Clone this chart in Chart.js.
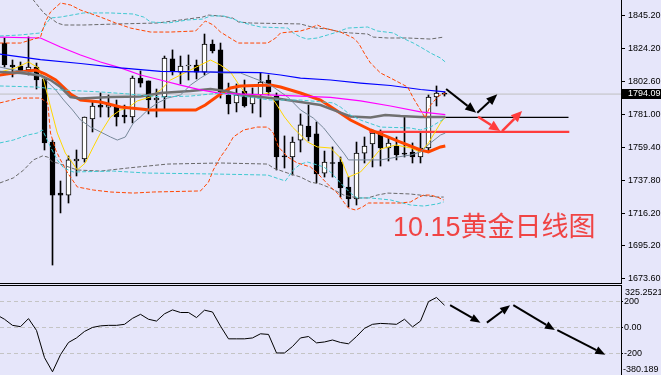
<!DOCTYPE html>
<html>
<head>
<meta charset="utf-8">
<script src="https://cdn.jsdelivr.net/npm/chart.js@4.4.0/dist/chart.umd.min.js"></script>
<style>
html, body { margin: 0; padding: 0; background: #e6e6fa; }
body { width: 661px; height: 375px; overflow: hidden; position: relative; }
#main { position: absolute; left: 0; top: 0; }
#cci { position: absolute; left: 0; top: 284px; }
#title { position: absolute; left: 393px; top: 214px; font-size: 27px; line-height: 27px;
  font-family: "Liberation Sans", "Noto Sans CJK SC", sans-serif; color: #f04444; white-space: nowrap; }
</style>
</head>
<body>
<canvas id="main" width="661" height="284" style="width:661px;height:284px"></canvas>
<canvas id="cci" width="661" height="93" style="width:661px;height:93px"></canvas>
<div id="title">10.15黄金日线图</div>
<script>
// tick labels
const priceTicks = [1845.2, 1824.2, 1802.6, 1781.0, 1759.4, 1737.8, 1716.2, 1695.2, 1673.6];
const cciTicks = [200, 0, -200];
const cciEdges = [325.2521, -380.189];

// daily candles
const opens = [1827.5,1813.1,1812.5,1809.9,1811.8,1804.0,1762.7,1729.3,1728.0,1750.3,
  1751.6,1777.8,1786.9,1785.6,1786.3,1780.4,1779.1,1804.6,1802.7,1790.2,
  1792.2,1817.1,1808.5,1812.5,1813.1,1808.5,1826.9,1823.0,1793.5,1788.3,
  1796.1,1787.6,1793.5,1803.3,1792.8,1753.6,1752.9,1764.0,1773.2,1768.0,
  1742.4,1749.3,1749.6,1733.3,1725.4,1755.5,1761.4,1768.6,1758.8,1760.1,
  1755.5,1756.2,1752.9,1758.8,1792.2,1794.8];
const highs = [1830.8,1816.4,1815.1,1831.5,1814.4,1804.6,1764.0,1737.2,1753.6,1757.5,
  1779.1,1788.9,1794.8,1793.5,1790.2,1786.9,1805.9,1809.2,1802.7,1797.4,
  1819.0,1823.0,1819.0,1819.7,1816.4,1833.4,1829.5,1827.5,1801.3,1800.7,
  1803.3,1798.1,1807.9,1806.6,1794.8,1766.7,1766.0,1781.1,1786.9,1775.8,
  1756.8,1759.5,1752.9,1739.8,1762.7,1766.0,1770.6,1770.6,1766.0,1766.0,
  1779.1,1762.1,1768.6,1793.5,1799.4,1795.5];
const lows = [1811.8,1805.3,1807.9,1806.6,1797.4,1757.5,1682.2,1716.3,1722.8,1740.5,
  1749.6,1769.3,1779.1,1779.1,1773.2,1775.2,1775.2,1798.7,1781.1,1779.1,
  1783.7,1806.6,1800.7,1803.3,1804.0,1806.6,1821.0,1791.5,1781.1,1782.4,
  1785.6,1781.7,1779.1,1793.5,1744.4,1745.7,1741.1,1756.2,1763.4,1735.9,
  1739.8,1739.8,1726.7,1720.2,1721.5,1749.0,1746.4,1747.0,1750.3,1751.0,
  1752.9,1749.0,1749.0,1756.2,1786.3,1792.8];
const closes = [1813.1,1811.8,1808.5,1811.8,1803.3,1762.1,1728.0,1728.0,1751.0,1751.6,
  1779.1,1786.3,1785.6,1786.9,1779.1,1779.1,1804.6,1801.3,1790.2,1791.5,
  1817.7,1809.2,1812.5,1813.1,1808.5,1826.9,1822.3,1795.5,1787.6,1793.5,
  1786.3,1792.8,1802.0,1795.5,1752.9,1752.9,1762.7,1773.9,1766.0,1741.8,
  1749.6,1748.7,1732.6,1725.4,1755.5,1760.1,1768.6,1758.8,1762.1,1754.2,
  1754.8,1752.9,1758.8,1792.2,1794.8,1794.09];

// indicator lines, [bar index, price]
const maBlue = [[-0.6,1820.3],[4.5,1816.7],[9.5,1814.1],[14.5,1811.2],[19.5,1808.9],[27,1808.5],[32,1808.2],
  [34.5,1806.6],[37,1804.6],[40.75,1803.3],[44.5,1801.3],[48.25,1799.7],[52,1797.1],[55.1,1795.5]];
const maMagenta = [[-0.6,1831.4],[4.5,1830.8],[7,1824.9],[9.5,1819.7],[12,1815.1],[14.5,1811.2],[17,1806.6],
  [19.5,1803.3],[22,1800.0],[24.5,1796.8],[27,1794.5],[32,1793.8],[37,1792.8],[40.75,1791.9],[44.5,1789.6],
  [48.25,1786.3],[52,1782.4],[55.1,1780.7]];
const maGray = [[-0.6,1808.5],[2,1807.9],[4.5,1806.2],[5.75,1803.3],[7,1798.7],[8.25,1792.2],[9.5,1791.2],
  [13.25,1792.2],[17,1792.5],[19.5,1794.8],[23.25,1796.1],[25.75,1797.4],[27.6,1796.1],[29.5,1793.5],
  [32,1792.2],[34.5,1790.9],[37,1788.9],[39.5,1786.9],[42,1782.0],[43.25,1779.4],[45.75,1778.8],
  [47.6,1780.4],[49.5,1779.7],[52,1779.1],[55.1,1779.1]];
const maOrange = [[-0.6,1806.6],[2,1808.5],[3.9,1809.9],[5.1,1807.2],[6.4,1803.3],[8.25,1794.2],[9.5,1790.2],
  [12,1788.9],[14.5,1785.6],[18.25,1783.7],[23.9,1783.7],[25.1,1786.9],[27,1794.2],[28.25,1798.1],
  [29.5,1799.4],[33.25,1800.0],[34.5,1798.7],[37,1794.8],[39.5,1790.2],[41.4,1783.7],[43.25,1777.1],
  [45.75,1770.6],[47.6,1766.7],[49.5,1762.7],[52,1757.5],[53,1756.2],[54.5,1759.5],[55.1,1760.1]];
const maYellow = [[-0.6,1808.5],[1.4,1811.2],[3,1815.1],[4.25,1811.2],[4.9,1803.3],[5.75,1785.6],[6.6,1768.6],
  [7.6,1755.5],[8.5,1749.0],[9.1,1744.4],[10.1,1749.0],[11.1,1759.5],[12,1768.6],[13.25,1779.1],
  [14.5,1783.7],[15.4,1785.0],[16.6,1789.6],[18.25,1792.2],[19.5,1796.8],[20.75,1803.3],[23.25,1809.9],
  [25.75,1816.4],[27,1813.1],[28.25,1808.5],[29.5,1798.7],[30.4,1792.8],[32,1793.5],[33,1794.8],
  [33.9,1788.2],[35,1779.1],[36,1772.5],[37,1767.3],[37.9,1762.7],[39.1,1759.5],[40.75,1758.8],
  [42,1752.3],[43,1739.8],[44.5,1743.1],[45.75,1750.3],[47,1758.1],[48.9,1760.8],[50.75,1758.8],
  [52,1756.2],[53,1762.1],[54.5,1775.2],[55.1,1779.1]];
const maSlate = [[-0.6,1811.8],[1.1,1809.9],[3.6,1807.9],[4.9,1804.6],[6.4,1796.8],[7.4,1790.2],[8.5,1783.7],
  [9.5,1777.1],[10.75,1772.5],[12,1769.3],[13.25,1766.0],[14.1,1764.0],[15.1,1766.0],[16.1,1775.2],
  [17,1779.1],[17.9,1783.7],[19.1,1788.2],[20.4,1791.5],[22,1793.5],[23.25,1800.0],[24.5,1804.6],
  [25.75,1808.5],[27.4,1807.9],[29.5,1807.9],[31.1,1804.6],[32.4,1802.0],[33.6,1798.7],[35.4,1792.2],
  [37,1783.7],[38.6,1778.4],[39.9,1771.9],[41.1,1764.0],[42.4,1755.5],[43,1751.0],[47,1751.0],
  [49.1,1752.9],[50.75,1754.2],[52,1756.2],[53.25,1762.1],[54.5,1767.3],[55.1,1768.6]];

// bands, dashed
const orangeUp = [[-0.6,1827.5],[2,1827.5],[4.5,1831.4],[5.1,1841.3],[5.75,1847.8],[7,1853.7],[8.25,1852.4],
  [9.5,1849.1],[12,1844.5],[13.9,1840.6],[15.75,1837.3],[18.25,1834.7],[20.75,1834.7],[23.9,1835.4],
  [25.1,1841.9],[26.1,1839.3],[27,1834.7],[28.6,1829.5],[29.25,1827.5],[32.9,1827.5],[33.9,1830.8],
  [34.5,1834.1],[37,1835.4],[38.25,1837.3],[39.1,1839.3],[39.9,1837.3],[42,1834.7],[43.6,1830.8],
  [44.25,1827.5],[45.1,1819.7],[45.75,1814.4],[47,1807.9],[48.25,1804.6],[50.4,1798.7],[51.1,1791.5],
  [52,1783.7],[52.6,1778.4],[53.25,1786.9],[54.25,1792.8],[55.1,1794.8]];
const orangeLow = [[-0.6,1788.3],[2,1791.5],[4.5,1791.5],[5.4,1788.3],[5.75,1768.6],[6.4,1757.5],[7,1751.0],
  [7.9,1742.4],[9.1,1733.3],[11.1,1731.3],[13.25,1730.0],[16.1,1729.3],[18.6,1730.0],[24.5,1730.7],
  [25.5,1736.5],[26.1,1744.4],[27,1752.9],[27.9,1759.5],[28.6,1766.0],[29.9,1770.6],[31.6,1772.5],
  [32.9,1772.5],[33.6,1768.6],[34.25,1759.5],[35.4,1752.9],[36.6,1749.0],[38.25,1746.4],[39.1,1742.4],
  [39.9,1737.9],[40.75,1733.3],[41.6,1729.3],[42.4,1723.5],[43,1719.5],[43.9,1718.2],[44.75,1720.2],
  [45.5,1722.8],[49.5,1722.8],[50.75,1723.5],[51.6,1726.1],[52.4,1728.0],[53.25,1728.0],[54.1,1726.7],
  [54.9,1724.8]];
const cyanUp = [[-0.6,1832.1],[2,1832.8],[4.5,1834.1],[5.1,1839.3],[5.75,1843.9],[7,1844.5],[9.9,1847.2],
  [13.25,1847.2],[16.1,1846.5],[17.4,1844.5],[18.25,1841.3],[20.4,1840.6],[22.9,1842.6],[24.75,1843.2],
  [25.75,1845.2],[27.4,1845.2],[28.6,1843.2],[29.9,1840.6],[32,1838.0],[35.4,1837.3],[36.1,1834.1],
  [37,1831.4],[37.9,1830.1],[39.1,1830.8],[40.4,1832.8],[41.6,1834.7],[42.9,1837.3],[45.4,1838.0],
  [46.6,1835.4],[48.6,1834.1],[49.5,1831.4],[51.1,1827.5],[52,1824.9],[53.25,1821.0],[54.5,1817.7],
  [55.1,1815.1]];
const cyanMid = [[-0.6,1799.4],[4.1,1798.7],[7,1796.8],[12,1795.5],[15.4,1794.2],[19.5,1792.2],[23.25,1792.8],
  [27,1794.8],[30.4,1792.2],[33.25,1790.2],[37,1790.2],[41.1,1788.3],[42,1785.6],[43.25,1780.4],
  [44.5,1777.1],[47,1772.5],[50.75,1771.9],[52,1770.6],[53.25,1772.5],[55.1,1778.4]];
const cyanLow = [[-0.6,1762.1],[1.1,1764.0],[2.9,1767.3],[4.1,1768.6],[4.75,1770.6],[5.75,1759.5],[6.6,1751.0],
  [7.4,1745.7],[8.6,1743.1],[13.6,1743.7],[17.9,1742.4],[26.1,1741.8],[32.9,1741.1],[35.1,1737.2],
  [36.1,1744.4],[37,1748.3],[37.9,1749.6],[39.9,1746.4],[40.75,1743.1],[42,1735.9],[43.25,1729.3],
  [44.1,1726.1],[45.75,1726.1],[48.25,1724.8],[50.75,1721.5],[52.4,1720.8],[54.1,1722.2],[54.9,1723.5]];
const grayUp = [[2.5,1862.0],[3.6,1855.7],[4.9,1847.2],[5.75,1843.9],[6.6,1840.6],[7.4,1839.3],[9.9,1839.3],
  [14.1,1840.0],[19.1,1840.6],[22,1842.6],[24.75,1844.5],[25.5,1845.8],[27,1845.2],[28.5,1843.9],
  [29.25,1841.3],[30.75,1840.6],[37,1840.0],[37.9,1838.7],[38.9,1837.3],[40.4,1836.7],[42,1834.7],
  [43.25,1834.1],[45.4,1833.4],[46.1,1831.4],[47.9,1830.8],[50.4,1830.8],[53.25,1830.1],[54.9,1831.4]];
const grayLow = [[-0.6,1735.9],[1.1,1739.2],[2.4,1744.4],[3.6,1751.0],[4.75,1753.6],[5.4,1752.9],[6,1749.6],
  [6.6,1749.0],[9.1,1744.4],[12,1743.7],[15.4,1745.7],[20.4,1748.3],[27,1749.0],[32.9,1748.3],
  [33.6,1745.7],[35.4,1742.4],[37,1739.8],[38.25,1736.5],[39.5,1735.2],[40.75,1732.6],[42.4,1728.0],
  [44.1,1726.1],[45.4,1726.1],[46.6,1728.0],[47.9,1729.3],[50.75,1728.7],[54.1,1726.7],[54.9,1726.7]];

// drawn levels and arrows, [bar index, price]
const blackLevel = [[54.8,1778.9],[70.5,1778.9]];
const redLevel = [[45.6,1769.3],[70.6,1769.3]];
const blackArrows = [[55.2,1797.4,58.96,1781.9],[59.1,1781.9,61.6,1793.95]];
const redArrows = [[59.2,1779.3,61.96,1769.9],[62.2,1769.9,64.7,1783.0]];

// CCI
const cciLead = [-1, 100];
const cci = [65,18,8,70,-21,-231,-340,-208,-114,-79,
  -29,2,14,18,18,26,72,103,65,51,
  107,137,117,117,78,135,121,12,-86,-86,
  -86,-79,-47,-52,-195,-195,-145,-79,-68,-117,
  -110,-95,-114,-124,-68,-5,26,33,30,26,
  65,6,51,201,233,173];
const cciArrows = [[55.7,173.5,59.5,39],[60.3,39,63.2,173.5],[63.6,173.5,68.8,-18.7],[69.1,-18.7,75.1,-207.7]];

const xMin = -0.5625, xMax = -0.5625 + 621 / 8;
Chart.defaults.font.family = '"Liberation Sans", Arial, sans-serif';
Chart.defaults.font.size = 9;
Chart.defaults.color = '#000';

const pts = (arr) => arr.map((p) => ({x: p[0], y: p[1]}));

function lineDs(arr, color, width, dash) {
  return {
    type: 'line', data: pts(arr), borderColor: color, borderWidth: width,
    borderDash: dash || [], pointRadius: 0, fill: false, tension: 0, order: 0
  };
}

function drawArrow(ctx, x0, y0, x1, y1, color, w, len, half) {
  const a = Math.atan2(y1 - y0, x1 - x0);
  const bx = x1 - len * Math.cos(a), by = y1 - len * Math.sin(a);
  ctx.save();
  ctx.strokeStyle = color;
  ctx.fillStyle = color;
  ctx.lineWidth = w;
  ctx.beginPath();
  ctx.moveTo(x0, y0);
  ctx.lineTo(bx, by);
  ctx.stroke();
  ctx.beginPath();
  ctx.moveTo(x1, y1);
  ctx.lineTo(bx + half * Math.sin(a), by - half * Math.cos(a));
  ctx.lineTo(bx - half * Math.sin(a), by + half * Math.cos(a));
  ctx.closePath();
  ctx.fill();
  ctx.restore();
}

const lastClose = closes[closes.length - 1];
const wickData = highs.map((h, i) => ({x: i, y: [lows[i], h]}));
const bodyData = opens.map((o, i) => ({x: i, y: [o, closes[i]]}));
const bodyColors = opens.map((o, i) => closes[i] >= o ? '#ffffff' : '#000000');

const mainDecor = {
  id: 'mainDecor',
  afterDraw(chart) {
    const ctx = chart.ctx, xs = chart.scales.x, ys = chart.scales.y;
    blackArrows.forEach((a) => drawArrow(ctx, xs.getPixelForValue(a[0]), ys.getPixelForValue(a[1]),
      xs.getPixelForValue(a[2]), ys.getPixelForValue(a[3]), '#000', 2, 11, 4.5));
    redArrows.forEach((a) => drawArrow(ctx, xs.getPixelForValue(a[0]), ys.getPixelForValue(a[1]),
      xs.getPixelForValue(a[2]), ys.getPixelForValue(a[3]), '#ff3c3c', 2.5, 11, 5));
    const y = ys.getPixelForValue(lastClose);
    ctx.save();
    ctx.fillStyle = '#000';
    ctx.fillRect(622, Math.round(y) - 5, 39, 10);
    ctx.fillStyle = '#fff';
    ctx.font = '9px "Liberation Sans", Arial, sans-serif';
    ctx.textBaseline = 'middle';
    ctx.fillText(lastClose.toFixed(2), 628, Math.round(y));
    ctx.restore();
  }
};

new Chart(document.getElementById('main'), {
  type: 'line',
  data: {
    datasets: [
      lineDs(orangeUp, '#ff4500', 1, [4, 2]),
      lineDs(orangeLow, '#ff4500', 1, [4, 2]),
      lineDs(cyanUp, '#40c8d0', 1, [4, 2]),
      lineDs(cyanMid, '#40c8d0', 1, [4, 2]),
      lineDs(cyanLow, '#40c8d0', 1, [4, 2]),
      lineDs(grayUp, '#696969', 1, [4, 2]),
      lineDs(grayLow, '#696969', 1, [4, 2]),
      lineDs(maBlue, '#0000ff', 1.2),
      lineDs(maMagenta, '#ff00ff', 1.2),
      lineDs(maSlate, '#778899', 1),
      lineDs(maGray, '#707070', 2.5),
      lineDs(maOrange, '#ff4500', 3),
      lineDs(maYellow, '#ffd700', 1),
      lineDs(blackLevel, '#000000', 1.2),
      lineDs(redLevel, '#ff3c3c', 2.2),
      {
        type: 'bar', data: bodyData, backgroundColor: bodyColors, borderColor: '#000',
        borderWidth: 1, borderSkipped: false, barThickness: 5, grouped: false, order: 1
      },
      {
        type: 'bar', data: wickData, backgroundColor: '#000', borderWidth: 0,
        barThickness: 1, grouped: false, order: 2
      },
      Object.assign(lineDs([[-1, lastClose], [80, lastClose]], '#c0c0c0', 1), {order: 3})
    ]
  },
  options: {
    responsive: false, animation: false, events: [],
    layout: {padding: 0},
    plugins: {legend: {display: false}, tooltip: {enabled: false}},
    scales: {
      x: {
        type: 'linear', min: xMin, max: xMax, offset: false,
        grid: {display: false, drawTicks: false, offset: false},
        ticks: {display: false},
        border: {display: true, color: '#000', width: 1},
        afterFit: (s) => { s.height = 1; s.paddingLeft = 0; s.paddingRight = 0; }
      },
      y: {
        position: 'right', min: 1855.67 - 283 * 0.6545, max: 1855.67,
        afterBuildTicks: (s) => { s.ticks = priceTicks.map((v) => ({value: v})); },
        afterFit: (s) => { s.width = 40; s.paddingTop = 0; s.paddingBottom = 0; },
        grid: {drawOnChartArea: false, drawTicks: true, tickLength: 4, color: '#000'},
        border: {display: true, color: '#000', width: 1},
        ticks: {autoSkip: false, padding: 3, callback: (v) => v.toFixed(2)}
      }
    }
  },
  plugins: [mainDecor]
});

const cciDecor = {
  id: 'cciDecor',
  afterDraw(chart) {
    const ctx = chart.ctx, xs = chart.scales.x, ys = chart.scales.y;
    cciArrows.forEach((a) => drawArrow(ctx, xs.getPixelForValue(a[0]), ys.getPixelForValue(a[1]),
      xs.getPixelForValue(a[2]), ys.getPixelForValue(a[3]), '#000', 2, 10, 4));
    ctx.save();
    ctx.fillStyle = '#000';
    ctx.font = '9px "Liberation Sans", Arial, sans-serif';
    ctx.textBaseline = 'middle';
    ctx.fillText(String(cciEdges[0]), 625, ys.getPixelForValue(cciEdges[0]) + 7);
    ctx.fillText(String(cciEdges[1]), 623, ys.getPixelForValue(cciEdges[1]) - 7);
    ctx.restore();
  }
};

new Chart(document.getElementById('cci'), {
  type: 'line',
  data: {
    datasets: [
      lineDs([cciLead].concat(cci.map((v, i) => [i, v])), '#000000', 1)
    ]
  },
  options: {
    responsive: false, animation: false, events: [],
    layout: {padding: 0},
    plugins: {legend: {display: false}, tooltip: {enabled: false}},
    scales: {
      x: {
        type: 'linear', position: 'top', min: xMin, max: xMax, offset: false,
        grid: {display: false, drawTicks: false},
        ticks: {display: false},
        border: {display: true, color: '#000', width: 1},
        afterFit: (s) => { s.height = 1.5; s.paddingLeft = 0; s.paddingRight = 0; }
      },
      y: {
        position: 'right', min: cciEdges[1], max: cciEdges[0],
        afterBuildTicks: (s) => { s.ticks = cciTicks.map((v) => ({value: v})); },
        afterFit: (s) => { s.width = 40; s.paddingTop = 0; s.paddingBottom = 0; },
        grid: {drawOnChartArea: true, drawTicks: true, tickLength: 2, color: '#c4c4c4', tickColor: '#000'},
        border: {display: true, color: '#000', width: 1, dash: [4, 3]},
        ticks: {autoSkip: false, padding: 1, callback: (v) => v === 0 ? '0.00' : String(v)}
      }
    }
  },
  plugins: [cciDecor]
});
</script>
</body>
</html>
